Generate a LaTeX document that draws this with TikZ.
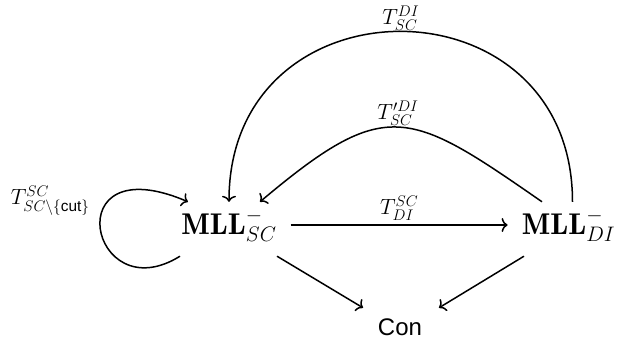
\RequirePackage{fix-cm}
\documentclass[tikz,border=0pt]{standalone}
\usepackage{amsmath}
\usepackage{fontspec}
\newfontfamily\consans{Liberation Sans}
\usetikzlibrary{arrows.meta}
\begin{document}
\begin{tikzpicture}[x=1pt,y=-1pt,
  arr/.style={draw, line width=1.5pt, -{To[length=6pt,width=14pt]}},
  big/.style={font=\fontsize{30}{35}\selectfont, inner xsep=14pt, inner ysep=12pt, text height=20pt, text depth=10pt},
  lab/.style={font=\fontsize{22}{26}\selectfont, inner sep=2pt}]
\useasboundingbox (0,0) rectangle (619,342);
\node[big, anchor=base] (sc) at (229,234) {$\mathbf{MLL}^-_{SC}$};
\node[big, anchor=base] (di) at (568.5,234) {$\mathbf{MLL}^-_{DI}$};
\node[font=\fontsize{24}{28}\selectfont\consans, anchor=base, inner xsep=0pt, inner ysep=10pt, text height=17pt, text depth=0pt] (con) at (400,335) {Con};
% outer arc
\draw[arr] ([xshift=4pt]di.north) .. controls +(0,-227) and +(0,-227) .. (sc.north)
  node[lab, midway, above, inner sep=0pt] {$T^{DI}_{SC}$};
% inner arc
\draw[arr] ([xshift=-26.5pt]di.north) .. controls +(-134,-93) and +(126,-106) .. ([xshift=31pt]sc.north)
  node[lab, midway, above, inner sep=1pt] {$T'^{DI}_{SC}$};
% horizontal
\draw[arr] ([yshift=4pt]sc.east) -- ([yshift=4pt]di.west)
  node[lab, midway, above, inner sep=4pt] {$T^{SC}_{DI}$};
% loop
\draw[arr] ([xshift=-49pt]sc.south) .. controls +(-90,56) and +(-133,-57) .. ([xshift=-41pt]sc.north)
  node[lab, pos=0.5, anchor=base east, xshift=-8pt, yshift=24pt] {$T^{SC}_{SC\setminus\{\text{\consans cut}\}}$};
% to Con
\draw[arr] ([xshift=48pt]sc.south) -- ([xshift=-37pt]con.north);
\draw[arr] ([xshift=-44.5pt]di.south) -- ([xshift=39pt]con.north);
\end{tikzpicture}
\end{document}
